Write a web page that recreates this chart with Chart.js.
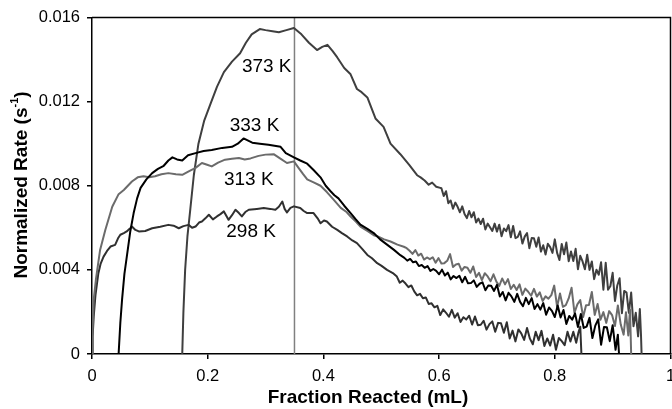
<!DOCTYPE html>
<html>
<head>
<meta charset="utf-8">
<script src="https://cdn.jsdelivr.net/npm/chart.js@4.4.1/dist/chart.umd.min.js"></script>
<style>
  html, body { margin: 0; padding: 0; background: #fff; }
  #wrap { width: 672px; height: 409px; position: relative; }
</style>
</head>
<body>
<div id="wrap"><canvas id="rateChart"></canvas></div>
<script>
/* ─── Data (rates in units of 0.001 s^-1) ─── */
const xTickLabels = ["0", "0.2", "0.4", "0.6", "0.8", "1"];
const yTickLabels = ["0", "0.004", "0.008", "0.012", "0.016"];

const seriesNames = ["333 K", "313 K", "298 K", "373 K"];
const labelX = [0.281, 0.271, 0.275, 0.302];
const labelY = [0.01083, 0.00829, 0.00579, 0.01367];

const markerX = [0.35, 0.35];
const markerY = [0, 0.016];

const fraction373 = [
  0.156, 0.158, 0.161, 0.165, 0.170, 0.176, 0.184, 0.194, 0.205, 0.216, 0.228, 0.242, 0.256, 0.266, 0.276,
  0.290, 0.300, 0.312, 0.323, 0.336, 0.349, 0.362, 0.375, 0.389, 0.398, 0.407, 0.416, 0.424, 0.436, 0.447,
  0.458, 0.466, 0.476, 0.483, 0.490, 0.504, 0.516, 0.533, 0.548, 0.562, 0.568, 0.575, 0.582, 0.588, 0.595,
  0.602,
  0.604, 0.608, 0.612, 0.616, 0.620, 0.624, 0.628, 0.632, 0.636, 0.640,
  0.644, 0.648, 0.652, 0.656, 0.660, 0.664, 0.668, 0.672, 0.676, 0.680,
  0.684, 0.688, 0.692, 0.696, 0.700, 0.704, 0.708, 0.712, 0.716, 0.720,
  0.724, 0.728, 0.732, 0.736, 0.740, 0.744, 0.748, 0.752, 0.756, 0.760,
  0.764, 0.768, 0.772, 0.776, 0.780, 0.784, 0.788, 0.792, 0.796, 0.800,
  0.804, 0.808, 0.812, 0.816, 0.820, 0.824, 0.828, 0.832, 0.836, 0.840,
  0.844, 0.848, 0.852, 0.856, 0.860, 0.864, 0.868, 0.872, 0.876, 0.880,
  0.884, 0.888, 0.892, 0.896, 0.900, 0.904, 0.908, 0.912, 0.916, 0.920,
  0.924, 0.928, 0.932, 0.936, 0.940, 0.944, 0.947, 0.949, 0.950,
];
const rate373 = [
  0, 2.0, 4.0, 5.6, 6.9, 8.5, 10.0, 11.1, 11.9, 12.7, 13.4, 13.9, 14.3, 14.8, 15.2,
  15.45, 15.4, 15.35, 15.3, 15.4, 15.5, 15.2, 14.8, 14.45, 14.6, 14.7, 14.4, 14.1, 13.6, 13.3,
  12.6, 12.45, 12.2, 11.7, 11.2, 10.8, 10.0, 9.5, 9.0, 8.5, 8.4, 8.25, 8.05, 8.15, 7.95,
  7.9,
  7.88, 7.51, 7.74, 7.17, 7.30, 6.91, 7.20, 7.00, 6.74, 7.02,
  6.66, 6.46, 6.80, 6.50, 6.74, 6.25, 6.44, 6.18, 6.43, 5.92,
  6.20, 6.03, 5.85, 6.20, 5.82, 6.15, 5.60, 5.97, 5.84, 6.13,
  5.55, 6.09, 5.51, 5.57, 5.83, 5.25, 5.58, 5.75, 5.03, 5.51,
  5.50, 5.10, 5.54, 4.87, 5.17, 4.73, 5.24, 5.08, 4.81, 5.45,
  4.81, 4.47, 5.23, 4.74, 5.30, 4.41, 4.87, 4.42, 5.00, 4.03,
  4.67, 4.40, 4.03, 4.72, 4.00, 4.40, 3.56, 4.01, 3.77, 4.36,
  3.06, 4.34, 3.06, 3.22, 3.86, 2.52, 3.26, 3.60, 1.94, 3.00,
  2.92, 1.96, 2.92, 1.32, 1.96, 0.84, 2.14, 0.9, 0,
];

const fraction333 = [
  0.046, 0.049, 0.052, 0.056, 0.061, 0.066, 0.072, 0.078, 0.084, 0.094, 0.104, 0.114, 0.124, 0.132, 0.139,
  0.147, 0.156, 0.166, 0.179, 0.193, 0.207, 0.225, 0.242, 0.252, 0.262, 0.277, 0.290, 0.305, 0.326, 0.335,
  0.349, 0.360, 0.372, 0.383, 0.395, 0.404, 0.412, 0.419, 0.426, 0.436, 0.447, 0.456, 0.464, 0.476, 0.487,
  0.498, 0.510, 0.522, 0.533,
  0.540, 0.545, 0.550, 0.555, 0.560, 0.565, 0.570, 0.575, 0.580, 0.585,
  0.590, 0.595, 0.600, 0.605, 0.610, 0.615, 0.620, 0.625, 0.630, 0.635,
  0.640, 0.645, 0.650, 0.655, 0.660, 0.665, 0.670, 0.675, 0.680, 0.685,
  0.690, 0.695, 0.700, 0.705, 0.710, 0.715, 0.720, 0.725, 0.730, 0.735,
  0.740, 0.745, 0.750, 0.755, 0.760, 0.765, 0.770, 0.775, 0.780, 0.785,
  0.790, 0.795, 0.800, 0.805, 0.810, 0.815, 0.820, 0.825, 0.830, 0.835,
  0.840, 0.845, 0.850, 0.855, 0.860, 0.865, 0.870, 0.875, 0.880, 0.885,
  0.890, 0.895, 0.900, 0.905, 0.909, 0.911,
];
const rate333 = [
  0, 1.5, 2.6, 3.8, 4.8, 5.8, 6.7, 7.4, 7.9, 8.3, 8.6, 8.8, 8.95, 9.2, 9.35,
  9.25, 9.2, 9.45, 9.55, 9.65, 9.7, 9.8, 9.85, 10.0, 10.25, 10.05, 10.0, 9.95, 9.85, 9.55,
  9.35, 9.2, 9.05, 8.75, 8.4, 8.0, 7.75, 7.55, 7.4, 7.05, 6.7, 6.4, 6.15, 5.95, 5.75,
  5.45, 5.2, 4.95, 4.7,
  4.57, 4.44, 4.52, 4.36, 4.40, 4.18, 4.23, 4.10, 4.18, 3.95,
  4.04, 3.95, 3.79, 4.01, 3.73, 3.87, 3.55, 3.71, 3.61, 3.72,
  3.41, 3.67, 3.36, 3.37, 3.50, 3.19, 3.34, 3.41, 3.03, 3.26,
  3.24, 3.00, 3.29, 2.73, 2.95, 2.55, 2.91, 2.74, 2.48, 2.86,
  2.48, 2.27, 2.67, 2.37, 2.66, 2.14, 2.37, 2.11, 2.42, 1.87,
  2.21, 2.05, 1.76, 2.31, 1.74, 2.09, 1.43, 1.81, 1.63, 1.93,
  1.28, 1.90, 1.24, 1.30, 1.72, 0.76, 1.35, 1.65, 0.44, 1.28,
  1.27, 0.61, 1.37, 0.20, 0.92, 0,
];

const fraction313 = [
  0, 0.001, 0.003, 0.007, 0.014, 0.023, 0.035, 0.046, 0.055, 0.069, 0.079, 0.089, 0.099, 0.109, 0.120,
  0.132, 0.145, 0.156, 0.168, 0.179, 0.190, 0.199, 0.207, 0.218, 0.230, 0.242, 0.254, 0.264, 0.274, 0.288,
  0.300, 0.314, 0.325, 0.337, 0.349, 0.357, 0.365, 0.372, 0.384, 0.395, 0.406, 0.418, 0.430, 0.440, 0.447,
  0.456, 0.464, 0.476, 0.487, 0.493, 0.505, 0.516, 0.528, 0.539,
  0.544, 0.549, 0.554, 0.559, 0.564, 0.569, 0.574, 0.579, 0.584, 0.589,
  0.594, 0.599, 0.604, 0.609, 0.614, 0.619, 0.624, 0.629, 0.634, 0.639,
  0.644, 0.649, 0.654, 0.659, 0.664, 0.669, 0.674, 0.679, 0.684, 0.689,
  0.694, 0.699, 0.704, 0.709, 0.714, 0.719, 0.724, 0.729, 0.734, 0.739,
  0.744, 0.749, 0.754, 0.759, 0.764, 0.769, 0.774, 0.779, 0.784, 0.789,
  0.794, 0.799, 0.804, 0.809, 0.814, 0.819, 0.824, 0.829, 0.834, 0.839,
  0.844, 0.849, 0.854, 0.859, 0.864, 0.869, 0.874, 0.879, 0.884, 0.889,
  0.894, 0.899, 0.904, 0.909, 0.914, 0.919, 0.923, 0.927, 0.930, 0.932,
];
const rate313 = [
  0, 1.0, 2.6, 3.6, 4.95, 5.9, 7.0, 7.6, 7.8, 8.2, 8.4, 8.45, 8.4, 8.45, 8.55,
  8.6, 8.55, 8.52, 8.7, 8.85, 9.08, 9.0, 8.92, 9.1, 9.24, 9.28, 9.32, 9.25, 9.3, 9.42,
  9.48, 9.5, 9.3, 9.08, 9.16, 8.85, 8.55, 8.3, 8.15, 8.0, 7.7, 7.33, 6.95, 6.75, 6.54,
  6.3, 6.06, 5.85, 5.65, 5.6, 5.45, 5.35, 5.2, 5.1,
  5.03, 4.91, 4.76, 4.94, 4.68, 4.77, 4.49, 4.59, 4.51, 4.60,
  4.34, 4.56, 4.30, 4.32, 4.43, 4.75, 4.14, 4.26, 4.29, 3.96,
  4.14, 4.10, 3.86, 4.16, 3.66, 3.86, 3.51, 3.84, 3.69, 3.46,
  3.79, 3.44, 3.24, 3.59, 3.31, 3.56, 3.09, 3.29, 3.04, 3.31,
  2.81, 3.11, 2.96, 2.77, 3.10, 2.73, 2.93, 2.52, 2.74, 2.63,
  2.80, 3.25, 2.24, 2.88, 2.24, 2.32, 2.64, 3.15, 1.96, 2.36,
  2.56, 1.76, 2.32, 2.33, 2.95, 1.86, 2.38, 1.63, 1.99, 1.48,
  2.04, 1.85, 1.33, 2.31, 1.40, 0.92, 1.98, 0.88, 2.10, 0,
];

const fraction298 = [
  0, 0.001, 0.003, 0.006, 0.011, 0.015, 0.020, 0.026, 0.032, 0.040, 0.045, 0.049, 0.055, 0.060, 0.065,
  0.069, 0.075, 0.081, 0.092, 0.104, 0.118, 0.132, 0.141, 0.150, 0.158, 0.167, 0.173, 0.179, 0.185, 0.190,
  0.196, 0.202, 0.209, 0.216, 0.222, 0.228, 0.236, 0.242, 0.248, 0.254, 0.259, 0.265, 0.271, 0.285, 0.297,
  0.308, 0.317, 0.323, 0.329, 0.333, 0.337, 0.343, 0.349, 0.360, 0.366, 0.372, 0.383, 0.390, 0.395, 0.401,
  0.406, 0.415, 0.424, 0.432, 0.441, 0.450, 0.458, 0.467, 0.476, 0.484, 0.493, 0.500, 0.510, 0.520, 0.527,
  0.532, 0.537, 0.542, 0.547, 0.552, 0.557, 0.562, 0.567, 0.572, 0.577,
  0.582, 0.587, 0.592, 0.597, 0.602, 0.607, 0.612, 0.617, 0.622, 0.627,
  0.632, 0.637, 0.642, 0.647, 0.652, 0.657, 0.662, 0.667, 0.672, 0.677,
  0.682, 0.687, 0.692, 0.697, 0.702, 0.707, 0.712, 0.717, 0.722, 0.727,
  0.732, 0.737, 0.742, 0.747, 0.752, 0.757, 0.762, 0.767, 0.772, 0.777,
  0.782, 0.787, 0.792, 0.797, 0.802, 0.807, 0.812, 0.817, 0.822, 0.827,
  0.832, 0.837, 0.841, 0.844, 0.846,
];
const rate298 = [
  0, 0.8, 1.8, 2.8, 3.84, 4.3, 4.63, 4.9, 5.11, 5.19, 5.5, 5.67, 5.75, 5.83, 5.95,
  6.06, 5.9, 5.83, 5.85, 5.98, 6.05, 6.14, 6.1, 5.98, 6.08, 6.14, 6.0, 6.06, 6.25, 6.3,
  6.45, 6.62, 6.4, 6.54, 6.65, 6.78, 6.38, 6.6, 6.86, 6.7, 6.54, 6.75, 6.86, 6.9, 6.94,
  6.9, 6.86, 7.0, 7.25, 6.9, 6.73, 6.95, 7.02, 6.94, 6.8, 6.7, 6.7, 6.45, 6.22, 6.35,
  6.3, 6.05, 5.9, 5.75, 5.59, 5.4, 5.27, 5.0, 4.71, 4.55, 4.32, 4.2, 4.0, 3.85, 3.68,
  3.39, 3.49, 3.35, 3.18, 3.26, 2.98, 2.79, 2.86, 2.65, 2.69,
  2.38, 2.41, 2.22, 2.29, 1.85, 2.12, 1.96, 1.77, 2.10, 1.73,
  1.94, 1.52, 1.75, 1.64, 1.82, 1.40, 1.78, 1.37, 1.39, 1.58,
  1.16, 1.42, 1.55, 1.06, 1.48, 1.46, 1.01, 1.51, 0.74, 1.11,
  0.60, 1.17, 0.98, 0.67, 1.24, 0.73, 0.46, 1.06, 0.66, 1.10,
  0.38, 0.74, 0.40, 0.92, 0.20, 0.76, 0.61, 0.42, 1.06, 0.59,
  1.06, 0.53, 1.03, 1.3, 0,
];

/* ─── Helpers ─── */
const FONT = '"Liberation Sans", Arial, Helvetica, sans-serif';
const toPoints = (xs, ys) => xs.map((x, i) => ({ x: x, y: ys[i] / 1000 }));

function curve(label, xs, ys, color) {
  return {
    label: label,
    data: toPoints(xs, ys),
    borderColor: color,
    borderWidth: 2,
    borderJoinStyle: "round",
    pointRadius: 0,
    tension: 0,
    fill: false,
  };
}

/* ─── Frame, titles and curve labels ─── */
const decorations = {
  id: "decorations",
  afterDatasetsDraw(chart) {
    const { ctx, chartArea: a, scales } = chart;
    ctx.save();
    ctx.strokeStyle = "#000";
    ctx.lineWidth = 1.5;
    ctx.beginPath();
    ctx.moveTo(a.left, a.top);
    ctx.lineTo(a.right, a.top);
    ctx.lineTo(a.right, a.bottom);
    ctx.stroke();

    ctx.fillStyle = "#000";
    ctx.textAlign = "center";
    ctx.textBaseline = "middle";
    ctx.font = "19px " + FONT;
    seriesNames.forEach((name, i) => {
      ctx.fillText(name, scales.x.getPixelForValue(labelX[i]), scales.y.getPixelForValue(labelY[i]));
    });

    // x title
    ctx.font = "bold 19px " + FONT;
    ctx.fillText("Fraction Reacted (mL)", 368, 398);

    // y title with superscript
    ctx.translate(22, 185);
    ctx.rotate(-Math.PI / 2);
    const main = "Normalized Rate (s";
    const sup = "-1";
    ctx.font = "bold 19px " + FONT;
    const w1 = ctx.measureText(main).width;
    const w3 = ctx.measureText(")").width;
    ctx.font = "bold 11px " + FONT;
    const w2 = ctx.measureText(sup).width;
    let x0 = -(w1 + w2 + w3) / 2;
    ctx.textAlign = "left";
    ctx.font = "bold 19px " + FONT;
    ctx.fillText(main, x0, 0);
    ctx.font = "bold 11px " + FONT;
    ctx.fillText(sup, x0 + w1, -7);
    ctx.font = "bold 19px " + FONT;
    ctx.fillText(")", x0 + w1 + w2, 0);
    ctx.restore();
  },
};

/* ─── Chart ─── */
const ctx = document.getElementById("rateChart");

new Chart(ctx, {
  type: "line",
  data: {
    datasets: [
      curve("333 K", fraction333, rate333, "#000000"),
      curve("313 K", fraction313, rate313, "#6b6b6b"),
      curve("298 K", fraction298, rate298, "#303030"),
      curve("373 K", fraction373, rate373, "#3f3f3f"),
      {
        label: "marker",
        data: toPoints(markerX, markerY.map((v) => v * 1000)),
        borderColor: "#808080",
        borderWidth: 1.5,
        pointRadius: 0,
      },
    ],
  },
  options: {
    responsive: true,
    maintainAspectRatio: false,
    animation: false,
    devicePixelRatio: 1,
    layout: { padding: { top: 17.5, right: 1.5, bottom: 0, left: 0 } },
    plugins: {
      legend: { display: false },
      tooltip: { enabled: false },
    },
    scales: {
      x: {
        type: "linear",
        min: 0,
        max: 1,
        ticks: {
          stepSize: 0.2,
          color: "#000",
          padding: 8,
          maxRotation: 0,
          font: { family: FONT, size: 16.5 },
          callback: (v, i) => xTickLabels[i],
        },
        grid: { drawOnChartArea: false, drawTicks: true, tickLength: 5, color: "#000", lineWidth: 1.5 },
        border: { display: true, color: "#000", width: 1.5 },
        afterFit(scale) {
          scale.height = 55;
          scale.paddingLeft = 0;
          scale.paddingRight = 0;
        },
      },
      y: {
        min: 0,
        max: 0.016,
        ticks: {
          stepSize: 0.004,
          color: "#000",
          padding: 7,
          font: { family: FONT, size: 16.5 },
          callback: (v, i) => yTickLabels[i],
        },
        grid: { drawOnChartArea: false, drawTicks: true, tickLength: 5, color: "#000", lineWidth: 1.5 },
        border: { display: true, color: "#000", width: 1.5 },
        afterFit(scale) {
          scale.width = 92;
          scale.paddingTop = 0;
          scale.paddingBottom = 0;
        },
      },
    },
  },
  plugins: [decorations],
});
</script>
</body>
</html>
